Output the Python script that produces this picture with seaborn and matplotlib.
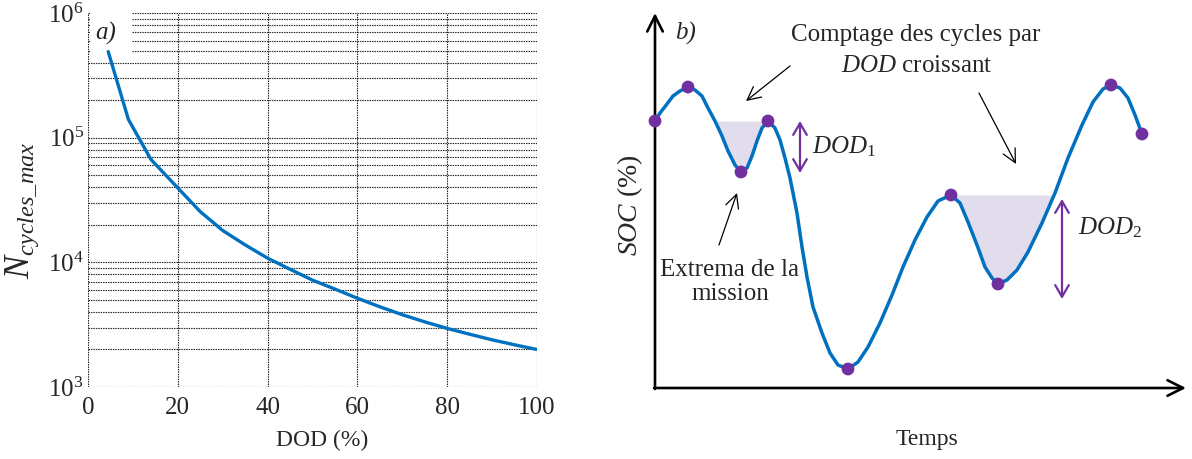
import numpy as np
import pandas as pd
import matplotlib
matplotlib.use("Agg")
import matplotlib.pyplot as plt
import seaborn as sns
from matplotlib.patches import Rectangle
from matplotlib.ticker import LogLocator, NullFormatter, NullLocator

# ---------------- data ----------------
# a) cycle life vs depth of discharge
dod = [4.5, 9, 14, 20, 25, 30, 35, 40, 45, 50, 55, 60, 65, 70, 75, 80, 85, 90, 95, 100]
ncycles = [490000, 140000, 67000, 39500, 25500, 18000, 13800, 10800, 8800, 7200,
           6100, 5150, 4400, 3800, 3330, 2950, 2650, 2390, 2180, 2000]
x_ticks = [0, 20, 40, 60, 80, 100]

# b) schematic SOC mission profile (arbitrary units read from the sketch)
t_curve = [0, 5, 12, 18, 25, 33, 40, 47, 53, 60,
           67, 73, 80, 86, 92, 97, 102, 107, 113, 120,
           125, 130, 135, 142, 147, 152, 158, 167, 175, 183,
           193, 203, 213, 225, 237, 248, 260, 272, 283, 296,
           305, 313, 322, 330, 337, 343, 352, 362, 373, 387,
           400, 413, 427, 438, 448, 456, 465, 473, 480, 487]
soc_curve = [267, 275, 284, 292, 297, 301, 298, 292, 280, 267,
             252, 237, 223, 216, 220, 232, 247, 260, 267, 260,
             248, 230, 210, 175, 141, 111, 81, 55, 35, 23,
             19, 26, 41, 65, 93, 121, 148, 171, 187, 193,
             185, 166, 143, 121, 110, 104, 108, 118, 136, 165,
             195, 230, 263, 286, 299, 303, 300, 290, 273, 254]
t_ext = [0, 33, 86, 113, 193, 296, 343, 456, 487]
soc_ext = [267, 301, 216, 267, 19, 193, 104, 303, 254]
cycle1 = dict(level=267, t_start=40, t_end=113)
cycle2 = dict(level=193, t_start=296, t_end=400)
dod1_arrow = dict(t=145, top=267, bottom=215)
dod2_arrow = dict(t=407, top=189, bottom=89)

BLUE = "#0070c0"
PURPLE = "#7030a0"
FILL = "#e2ddec"

sns.set_style("white")
plt.rcParams["font.family"] = ["Liberation Serif", "DejaVu Serif"]
plt.rcParams["mathtext.fontset"] = "custom"
plt.rcParams["mathtext.rm"] = "Liberation Serif"
plt.rcParams["mathtext.it"] = "Liberation Serif:italic"
plt.rcParams["mathtext.bf"] = "Liberation Serif:bold"
plt.rcParams["lines.solid_joinstyle"] = "round"

fig = plt.figure(figsize=(11.92, 4.59), dpi=100)

# ---------------- panel a ----------------
W, H = 1192, 459
axL = fig.add_axes([88 / W, 1 - 387 / H, (537 - 88) / W, (387 - 13) / H])
sns.lineplot(x=dod, y=ncycles, ax=axL, color=BLUE, lw=2.4, zorder=3)
axL.set_yscale("log")
axL.set_xlim(0, 100)
axL.set_ylim(1e3, 1e6)
axL.set_xticks(x_ticks)
axL.set_xticklabels([str(v) for v in x_ticks])
axL.xaxis.set_minor_locator(NullLocator())
axL.yaxis.set_major_locator(LogLocator(base=10, numticks=10))
axL.yaxis.set_minor_locator(LogLocator(base=10, subs=np.arange(2, 10), numticks=30))
axL.yaxis.set_minor_formatter(NullFormatter())
dot = (0, (1.3, 0.9))
axL.grid(True, which="both", axis="y", ls=dot, color="#222222", lw=0.8)
axL.grid(True, which="major", axis="x", ls=dot, color="#222222", lw=0.8)
axL.set_axisbelow(True)
axL.tick_params(axis="both", which="both", length=0, labelsize=18)
axL.tick_params(axis="x", pad=7)
axL.tick_params(axis="y", pad=3)
for s in axL.spines.values():
    s.set_visible(False)
axL.set_xlabel("")
axL.set_ylabel("")
axL.add_patch(Rectangle((0.004, 0.882), 0.094, 0.2, transform=axL.transAxes,
                        facecolor="white", edgecolor="none", zorder=1, clip_on=False))
axL.text(0.04, 0.946, "a)", transform=axL.transAxes, fontsize=18, style="italic",
         ha="center", va="center", zorder=4)
fig.text(22 / W, 1 - 210 / H, r"$N_{cycles\_max}$", rotation=90, fontsize=25,
         ha="center", va="center")
fig.text(322 / W, 1 - 440 / H, "DOD (%)", fontsize=17, ha="center", va="center")

# ---------------- panel b ----------------
axR = fig.add_axes([615 / W, 0, 577 / W, 1])
axR.set_xlim(-40, 537)
axR.set_ylim(-71, 388)
axR.axis("off")

tc = np.array(t_curve, dtype=float)
sc = np.array(soc_curve, dtype=float)
for cyc in (cycle1, cycle2):
    mask = (tc >= cyc["t_start"]) & (tc <= cyc["t_end"]) & (sc <= cyc["level"] + 0.5)
    axR.fill_between(tc, sc, cyc["level"], where=mask, interpolate=True,
                     color=FILL, lw=0, zorder=1)

sns.lineplot(x=t_curve, y=soc_curve, ax=axR, color=BLUE, lw=2.5, zorder=3)
sns.scatterplot(x=t_ext, y=soc_ext, ax=axR, color=PURPLE, s=85, edgecolor="none",
                zorder=4)
axR.set_xlabel("")
axR.set_ylabel("")

# axes arrows
for (x0, y0, x1, y1) in [(0, -1, 0, 375), (-1, 0, 531, 0)]:
    axR.annotate("", xy=(x1, y1), xytext=(x0, y0),
                 arrowprops=dict(arrowstyle="->,head_length=0.7,head_width=0.35",
                                 color="black", lw=1.9, shrinkA=0, shrinkB=0,
                                 mutation_scale=16))

# DOD arrows
for a in (dod1_arrow, dod2_arrow):
    axR.annotate("", xy=(a["t"], a["top"]), xytext=(a["t"], a["bottom"]),
                 arrowprops=dict(arrowstyle="<->,head_length=0.6,head_width=0.35",
                                 color=PURPLE, lw=1.6, shrinkA=0, shrinkB=0,
                                 mutation_scale=14))

# black pointer arrows
for (x0, y0, x1, y1) in [(135, 322, 91, 287), (324, 295, 361, 224), (64, 143, 82, 195)]:
    axR.annotate("", xy=(x1, y1), xytext=(x0, y0),
                 arrowprops=dict(arrowstyle="->,head_length=0.6,head_width=0.3",
                                 color="black", lw=0.9, shrinkA=0, shrinkB=0,
                                 mutation_scale=16))

axR.text(261, 353, "Comptage des cycles par", fontsize=18, ha="center", va="center")
axR.text(262, 322, r"$\mathit{DOD}$ croissant", fontsize=18, ha="center", va="center")
axR.text(75, 106, "Extrema de la\nmission", fontsize=18, ha="center", va="center",
         multialignment="center", linespacing=1.15)
axR.text(31, 355, "b)", fontsize=18, style="italic", ha="center", va="center")
axR.text(-25, 183, r"$SOC$ (%)", fontsize=20, rotation=90, ha="center", va="center")
axR.text(272, -52, "Temps", fontsize=17, ha="center", va="center")
axR.text(157, 241, r"$DOD_{\mathit{1}}$", fontsize=18, ha="left", va="center")
axR.text(423, 160, r"$DOD_{\mathit{2}}$", fontsize=18, ha="left", va="center")

fig.savefig("out.png", dpi=100)
